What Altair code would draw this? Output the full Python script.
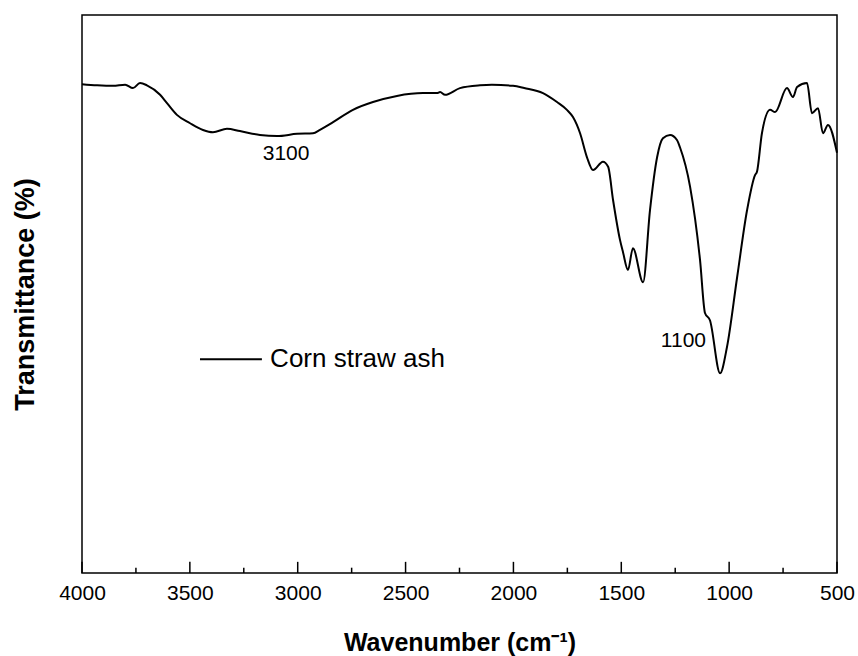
import altair as alt
import pandas as pd

# ---- data ----
wavenumber = [4000, 3930, 3856, 3800, 3764, 3731, 3699, 3638, 3606, 3560, 3499, 3439, 3393, 3328,
              3268, 3175, 3096, 3003, 2929, 2897, 2836, 2744, 2651, 2540, 2419, 2354,
              2340, 2317, 2248, 2155, 2100, 2002, 1950, 1863, 1798, 1752, 1724, 1691,
              1659, 1631, 1585, 1561, 1538, 1506, 1492, 1469, 1446, 1399, 1367, 1334,
              1307, 1274, 1242, 1228, 1181, 1135, 1112, 1089, 1042, 1010, 963, 917,
              880, 871, 848, 810, 787, 732, 704, 685, 639, 616, 588, 565, 542, 500]
transmittance = [87.6, 87.4, 87.3, 87.5, 86.9, 87.8, 87.4, 85.7, 84.2, 82.1, 80.6, 79.4, 79.0, 79.6,
                 79.2, 78.5, 78.3, 78.7, 78.8, 79.4, 80.8, 83.0, 84.4, 85.5, 86.0, 86.0,
                 86.2, 85.7, 86.9, 87.4, 87.5, 87.3, 86.9, 86.0, 84.4, 83.0, 81.7, 78.8,
                 74.5, 72.2, 73.7, 72.8, 66.8, 59.7, 57.5, 54.3, 58.2, 52.1, 65.0, 74.5,
                 77.9, 78.5, 77.6, 76.3, 69.2, 56.1, 46.6, 45.3, 35.8, 40.5, 53.0, 65.0,
                 71.3, 71.9, 78.8, 83.0, 82.6, 86.9, 85.3, 87.1, 87.8, 82.4, 83.3, 78.8,
                 80.3, 75.3]

major_ticks = [4000, 3500, 3000, 2500, 2000, 1500, 1000, 500]
minor_ticks = [3750, 3250, 2750, 2250, 1750, 1250, 750]

annot_wn = [3054, 1212]
annot_T = [75.1, 41.6]
annot_text = ["3100", "1100"]

legend_line_wn = [3453, 3166]
legend_line_T = [38.3, 38.3]
legend_text_wn = [3128]
legend_text_T = [38.3]
legend_label = ["Corn straw ash"]

FONT = "Liberation Sans"

spec_df = pd.DataFrame({"wn": wavenumber, "T": transmittance})
major_df = pd.DataFrame({"wn": major_ticks})
minor_df = pd.DataFrame({"wn": minor_ticks})
annot_df = pd.DataFrame({"wn": annot_wn, "T": annot_T, "label": annot_text})
leg_line_df = pd.DataFrame({"wn": [legend_line_wn[0]], "wn2": [legend_line_wn[1]], "T": [legend_line_T[0]]})
leg_text_df = pd.DataFrame({"wn": legend_text_wn, "T": legend_text_T, "label": legend_label})

xscale = alt.Scale(domain=[500, 4000], reverse=True, nice=False, zero=False)
yscale = alt.Scale(domain=[0, 100], nice=False, zero=False)

x_axis = alt.Axis(values=major_ticks, format="d", title="Wavenumber (cm\u207b\u00b9)",
                  labelFont=FONT, labelFontSize=21, labelColor="black", labelPadding=9,
                  labelFlush=False, labelOverlap=False, ticks=False, tickSize=0,
                  domain=False, grid=False,
                  titleFont=FONT, titleFontSize=25, titleFontWeight="bold", titleColor="black",
                  titleBaseline="alphabetic", titleY=77)
y_axis = alt.Axis(labels=False, ticks=False, tickSize=0, domain=False, grid=False,
                  title="Transmittance (%)", titleFont=FONT, titleFontSize=27,
                  titleFontWeight="bold", titleColor="black", titlePadding=43)

x_enc = alt.X("wn:Q", scale=xscale, axis=x_axis)
y_enc = alt.Y("T:Q", scale=yscale, axis=y_axis)

line = alt.Chart(spec_df).mark_line(color="black", strokeWidth=2, interpolate="monotone").encode(
    x=x_enc, y=y_enc)

# inward tick marks on the bottom axis (lengths in y-scale units: ~11 px and ~5 px)
major = alt.Chart(major_df).mark_rule(color="black", strokeWidth=1.5).encode(
    x=x_enc, y=alt.datum(0, scale=yscale, axis=y_axis), y2=alt.datum(2.0))
minor = alt.Chart(minor_df).mark_rule(color="black", strokeWidth=1.5).encode(
    x=x_enc, y=alt.datum(0, scale=yscale, axis=y_axis), y2=alt.datum(0.95))

annot = alt.Chart(annot_df).mark_text(font=FONT, fontSize=21, color="black",
                                      align="center", baseline="middle").encode(
    x=x_enc, y=y_enc, text="label:N")

leg_line = alt.Chart(leg_line_df).mark_rule(color="black", strokeWidth=2).encode(
    x=x_enc, x2="wn2:Q", y=y_enc)
leg_text = alt.Chart(leg_text_df).mark_text(font=FONT, fontSize=26, color="black",
                                            align="left", baseline="middle").encode(
    x=x_enc, y=y_enc, text="label:N")

chart = alt.layer(line, major, minor, annot, leg_line, leg_text).properties(
    width=755, height=558,
    autosize=alt.AutoSizeParams(type="none"),
    padding={"left": 82, "top": 15, "right": 21, "bottom": 83},
    background="white",
).configure_view(stroke="black", strokeWidth=1.5)

chart.save("out.html", embed_options={"renderer": "svg", "actions": False})
